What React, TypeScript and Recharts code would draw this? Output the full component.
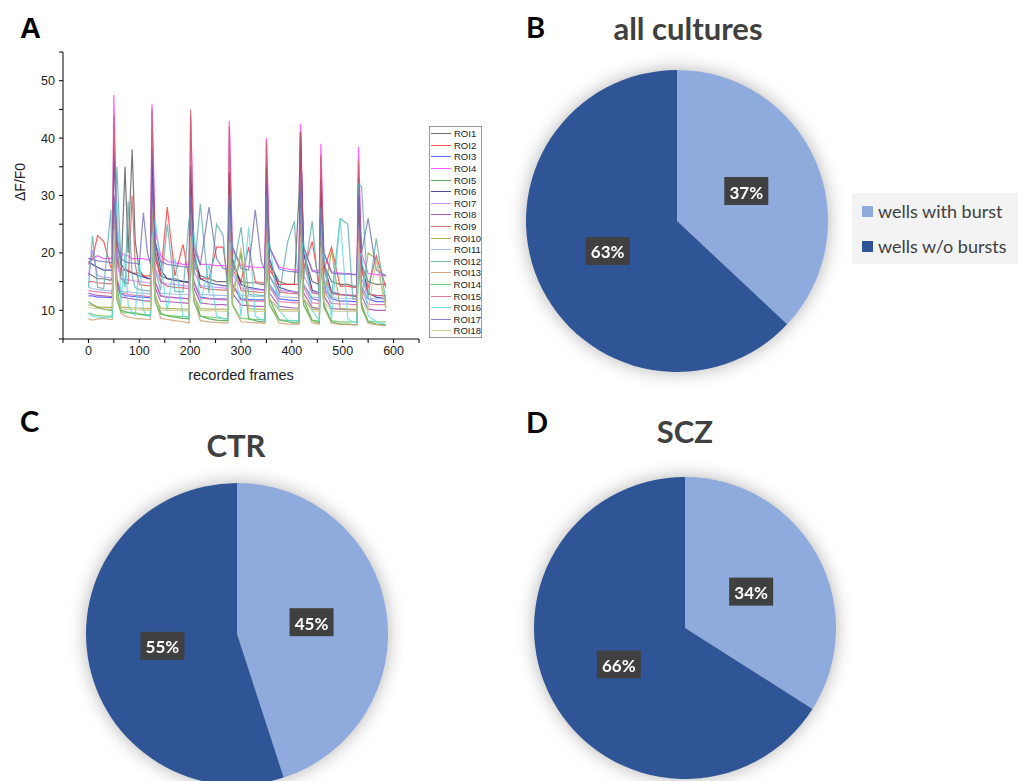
import React from 'react';
import { LineChart, Line, XAxis, YAxis, PieChart, Pie, Cell } from 'recharts';

// recorded frame positions sampled for every ROI trace
const frames = [
  0, 8, 18, 30, 44, 47, 50, 56, 64, 72,
  78, 86, 92, 100, 108, 116, 122, 125, 131, 142,
  155, 170, 186, 198, 201, 207, 220, 237, 252, 265,
  274, 277, 283, 300, 315, 328, 340, 347, 350, 356,
  375, 392, 405, 414, 417, 423, 440, 454, 457, 463,
  478, 495, 510, 520, 528, 531, 537, 550, 566, 585,
];

const roi1 = [16.5, 16, 15.5, 15.5, 15.2, 15.5, 30, 19, 16, 35, 20, 38, 22, 17, 16, 15.5, 15.5, 33, 20, 16, 15.5, 15.5, 15, 15, 30, 19, 16, 15.5, 15, 15, 15, 28, 18, 15, 14.8, 14.8, 14.5, 14.5, 30, 18, 15, 14.5, 14.5, 30, 41, 20, 15, 14.5, 30, 18, 15, 14.5, 14.5, 14.2, 14.2, 30, 18, 15, 14.5, 14.5];
const roi2 = [18, 19, 23, 22, 17.5, 17.5, 26, 19, 17, 17, 17, 16.5, 16.5, 16.5, 16, 16, 16, 27, 19, 16, 28, 16, 21.5, 15.5, 26, 18, 15.5, 15.5, 21, 21, 15, 25, 17, 15, 21, 15, 14.8, 14.8, 25, 17, 14.5, 14.5, 14.5, 14.5, 25, 17, 22, 14.3, 24, 17, 21, 14.2, 14.2, 14, 14, 26, 17, 14, 19.5, 14];
const roi3 = [12.5, 12.5, 12.3, 12.3, 12.2, 12.2, 25, 15, 13, 12.5, 12.5, 12.4, 12.4, 12.3, 12.3, 12.2, 12.2, 24, 15, 12.5, 12.3, 12.2, 12.1, 12, 24, 15, 12.3, 12.1, 12, 12, 11.9, 23, 14.5, 12, 11.9, 11.8, 11.8, 11.8, 23, 14.5, 12, 11.8, 11.7, 11.7, 24, 14.5, 12, 11.7, 22, 14, 12, 11.6, 11.6, 11.5, 11.5, 23, 14, 12, 11.5, 11.5];
const roi4 = [19, 19, 19.5, 19, 19, 19.5, 47.5, 24, 20, 19.5, 19.5, 19, 19, 19, 19, 18.8, 18.8, 46, 24, 19.5, 18.5, 18.3, 18, 18, 44, 22, 18, 18, 17.8, 17.8, 17.7, 43, 21, 17.8, 17.6, 17.5, 17.5, 17.4, 40, 21, 17.5, 17.2, 17, 17, 42.5, 21, 17, 16.8, 39, 20, 16.7, 16.5, 16.4, 16.3, 16.2, 38.5, 20, 16.4, 16.2, 16];
const roi5 = [11.5, 11, 10.5, 10.2, 10, 10, 24, 14, 10, 9.8, 9.6, 9.5, 9.4, 9.3, 9.2, 9.1, 9, 23, 13, 9.5, 9, 8.8, 8.6, 8.5, 24, 13, 9, 8.5, 8.3, 8.2, 8.2, 22, 12, 20, 8.5, 8.2, 8, 8, 22, 12, 8.3, 8, 7.8, 7.8, 23, 12, 8.2, 7.8, 21, 11, 8, 7.6, 7.6, 7.5, 7.5, 22, 11, 8, 7.6, 7.5];
const roi6 = [18.5, 18, 17.5, 17, 17, 17, 38, 22, 18, 17, 16.8, 16.5, 16.3, 16, 15.8, 15.6, 15.5, 38, 22, 17, 15.5, 15.2, 15, 14.8, 35, 20, 15.5, 14.8, 14.5, 14.3, 14.2, 34, 19, 14.5, 14, 13.8, 13.6, 13.5, 35, 19, 14, 13.5, 13.2, 13.1, 41, 20, 13.5, 13, 33, 18, 13.2, 12.8, 12.6, 12.5, 12.4, 33, 18, 13, 12.3, 12];
const roi7 = [16, 20.5, 16, 15.8, 15.6, 15.6, 27, 18, 15.5, 15.4, 15.3, 15.2, 15.1, 15, 14.9, 14.8, 14.7, 26, 17.5, 14.8, 14.6, 14.5, 14.3, 14.2, 27, 17, 14.3, 14.1, 14, 13.9, 13.8, 25, 16.5, 13.9, 13.7, 13.6, 13.5, 13.4, 25, 16, 13.5, 13.3, 13.2, 13.1, 26, 16, 13.2, 13, 24, 15.5, 13, 12.8, 12.7, 12.6, 12.6, 25, 15.5, 12.8, 12.6, 12.5];
const roi8 = [13, 12.8, 12.6, 12.5, 12.4, 12.4, 22, 14.5, 12.3, 12.2, 12.1, 12, 11.9, 11.8, 11.7, 11.6, 11.6, 21, 14, 11.6, 11.5, 11.4, 11.3, 11.2, 22, 14, 11.3, 11.1, 11, 11, 10.9, 20, 13, 10.9, 10.8, 10.7, 10.7, 10.6, 20, 13, 10.7, 10.5, 10.4, 10.4, 21, 13, 10.5, 10.3, 19, 12.5, 10.3, 10.2, 10.1, 10.1, 10, 24, 12.5, 10.2, 10, 10];
const roi9 = [15, 15, 14.8, 14.7, 14.6, 14.6, 44, 21, 15.5, 14.8, 14.6, 30, 18, 14.5, 14.4, 14.3, 14.3, 45, 21, 15, 14.2, 14, 13.9, 13.8, 45, 20, 14, 13.7, 13.6, 13.5, 13.5, 42, 19, 13.5, 13.3, 13.2, 13.1, 13.1, 39.5, 18, 13.2, 13, 12.9, 12.9, 41, 18.5, 13, 12.8, 37, 17, 12.9, 12.7, 12.6, 12.6, 12.5, 36, 17, 12.8, 12.6, 12.5];
const roi10 = [11, 10.8, 10.6, 10.5, 10.5, 10.5, 21, 13, 10.6, 10.5, 10.5, 10.4, 10.4, 10.4, 10.3, 10.3, 10.3, 20, 12.5, 10.4, 10.3, 10.3, 10.2, 10.2, 21, 12.5, 10.3, 10.2, 10.2, 10.2, 10.1, 19, 12, 20.5, 10.3, 10.2, 10.2, 10.1, 19, 12, 10.2, 10.1, 10.1, 10.1, 20, 12, 10.2, 10.1, 19, 12, 20.5, 10.3, 10.2, 10.2, 10.1, 20, 12, 20, 19, 10.5];
const roi11 = [14, 13.8, 13.6, 13.5, 13.4, 13.4, 23, 15.5, 13.3, 13.2, 13.2, 13.1, 13.1, 13, 13, 12.9, 12.9, 22, 15, 13, 12.9, 12.8, 12.8, 12.7, 23, 15, 12.8, 12.7, 12.6, 12.6, 12.5, 21, 14.5, 12.6, 12.5, 12.4, 12.4, 12.3, 21, 14.5, 12.4, 12.3, 12.2, 12.2, 22, 14.5, 12.3, 12.2, 20, 14, 12.2, 12.1, 12.1, 12, 12, 21, 14, 12.1, 12, 12];
const roi12 = [14, 23, 14, 13.8, 27.5, 16, 20, 35, 18, 14, 29, 16, 14, 13.6, 13.5, 13.4, 13.4, 30, 17, 13.5, 25, 13.3, 13.2, 26, 27, 16, 28.5, 13, 25, 23, 12.8, 30, 16, 24.5, 12.8, 12.7, 12.6, 12.5, 30, 16, 12.6, 22, 25.5, 12.4, 30, 15.5, 25.5, 12.2, 28, 15, 12.2, 26, 25, 12, 12, 32, 31.5, 12.2, 22.5, 11.5];
const roi13 = [8.5, 8.3, 8.5, 8.6, 8.4, 8.4, 25, 12, 9.5, 9, 8.8, 8.7, 8.6, 8.5, 8.5, 8.4, 8.4, 27, 12, 8.6, 8.4, 8.2, 8, 7.8, 27, 12, 8.2, 8, 7.9, 7.8, 7.8, 26, 11, 8, 7.9, 7.8, 7.8, 7.7, 24, 11, 7.8, 7.6, 7.6, 7.6, 25, 11, 7.8, 7.6, 23, 10.5, 7.7, 7.6, 7.5, 7.5, 7.5, 24, 10.5, 7.7, 7.5, 7.3];
const roi14 = [9.5, 9.3, 9.1, 9, 9, 9, 22, 12, 9.8, 9.5, 9.7, 9.5, 9.6, 9.4, 9.3, 9.2, 9.2, 21, 11.5, 9.3, 9.1, 9, 8.9, 8.8, 22, 11.5, 9, 8.8, 8.7, 8.6, 8.5, 20, 11, 8.6, 8.5, 8.4, 8.4, 8.3, 20, 11, 8.4, 8.2, 8.2, 8.1, 21, 11, 8.3, 8.1, 19, 10.5, 8.2, 8, 8, 8, 7.9, 20, 10.5, 8.1, 8, 8];
const roi15 = [13.5, 13.3, 13.2, 13.1, 13, 13, 24, 15.5, 13, 12.9, 12.8, 12.7, 12.6, 12.6, 12.5, 12.4, 12.4, 23, 15, 12.5, 12.3, 12.2, 12.1, 12, 24, 15, 12.1, 12, 11.9, 11.8, 11.8, 22, 14.5, 11.8, 11.7, 11.6, 11.6, 11.5, 22, 14, 11.5, 11.4, 11.3, 11.3, 23, 14, 11.3, 11.2, 21, 13.5, 11.2, 11.1, 11.1, 11, 11, 22, 13.5, 11.1, 11, 11];
const roi16 = [9.5, 9, 8.8, 8.7, 8.8, 8.8, 20, 29, 11, 20, 11, 9.5, 9.2, 19, 10, 9, 9, 22, 26, 18, 10, 19, 9, 8.7, 20, 24, 11, 18, 9, 8.5, 8.5, 20, 22, 9, 24.5, 9, 8.3, 8.3, 20, 22, 10, 8.3, 8.2, 8.2, 20, 22, 10, 8.2, 19, 20, 8.5, 26, 8.5, 8, 7.9, 19, 20, 9, 8, 7.5];
const roi17 = [19, 18.8, 18.6, 18.5, 18.3, 18.3, 30, 22, 19, 18.5, 18.3, 18.2, 18.2, 18, 27, 20, 18, 32, 22, 18.5, 18, 17.8, 17.6, 17.5, 30, 21, 17.8, 28, 19, 17.3, 17.2, 30, 21, 17.3, 17, 27.5, 18.5, 17, 30, 21, 17.2, 16.8, 16.7, 16.6, 31, 21, 16.8, 16.5, 28, 20, 16.5, 16.3, 16.3, 16.2, 16.2, 30, 20, 26, 17, 16];
const roi18 = [10.5, 10.4, 10.3, 10.2, 10.2, 10.2, 24, 13, 10.3, 10.2, 10.2, 10.1, 10.1, 10.1, 10, 10, 10, 23, 12.5, 10.1, 10, 10, 9.9, 9.9, 23, 12.5, 10, 9.9, 9.9, 9.8, 9.8, 22, 12, 21, 9.9, 9.8, 9.8, 9.8, 22, 12, 9.9, 9.8, 9.8, 9.8, 23, 12, 9.9, 9.8, 21, 11.5, 9.9, 9.8, 9.8, 9.8, 9.8, 22, 11.5, 9.9, 19, 10];

const roiSeries = [roi1, roi2, roi3, roi4, roi5, roi6, roi7, roi8, roi9, roi10, roi11, roi12, roi13, roi14, roi15, roi16, roi17, roi18];
const roiNames = roiSeries.map((_, i) => `ROI${i + 1}`);
const roiColors = [
  '#555555', '#ff3535', '#4545ff', '#ff3cff', '#3fa03f', '#2c2c8c',
  '#c07cff', '#a040a8', '#d05a5a', '#a8a040', '#94b2e0', '#5aacac',
  '#c89a6a', '#5cc45c', '#e0609c', '#5cdce4', '#6e6eb8', '#c8c88c',
];

const xTicks = [-50, 0, 50, 100, 150, 200, 250, 300, 350, 400, 450, 500, 550, 600, 650];
const yTicks = [5, 10, 15, 20, 25, 30, 35, 40, 45, 50, 55];

// pie panels
const sliceNames = ['wells with burst', 'wells w/o bursts'];
const sliceColors = ['#8faadc', '#2f5597'];
const allCultures = [37, 63];
const ctrValues = [45, 55];
const sczValues = [34, 66];

const traceData = frames.map((frame, i) => {
  const row: Record<string, number> = { frame };
  roiSeries.forEach((s, k) => {
    row[roiNames[k]] = s[i];
  });
  return row;
});

const RAD = Math.PI / 180;
const pieFont = 'Lato, "Open Sans", sans-serif';
const arialFont = '"Liberation Sans", Arial, sans-serif';

function BoxLabel(props: any) {
  const { cx, cy, midAngle, outerRadius, value } = props;
  const r = outerRadius * 0.5;
  const x = cx + r * Math.cos(-midAngle * RAD);
  const y = cy + r * Math.sin(-midAngle * RAD);
  return (
    <g>
      <rect x={x - 22} y={y - 14} width={44} height={28} fill="#404040" />
      <text
        x={x}
        y={y + 1}
        fill="#ffffff"
        textAnchor="middle"
        dominantBaseline="central"
        fontFamily={pieFont}
        fontWeight={700}
        fontSize={17}
      >
        {value}%
      </text>
    </g>
  );
}

function PiePanel({ values, left, top }: { values: number[]; left: number; top: number }) {
  const data = values.map((v, i) => ({ name: sliceNames[i], value: v }));
  return (
    <div style={{ position: 'absolute', left, top, filter: 'drop-shadow(0px 0px 9px rgba(0,0,0,0.3))' }}>
      <PieChart width={340} height={340} margin={{ top: 0, right: 0, bottom: 0, left: 0 }}>
        <Pie
          data={data}
          dataKey="value"
          nameKey="name"
          cx="50%"
          cy="50%"
          outerRadius={151}
          startAngle={90}
          endAngle={-270}
          stroke="none"
          labelLine={false}
          label={BoxLabel}
          isAnimationActive={false}
        >
          {data.map((d, i) => (
            <Cell key={d.name} fill={sliceColors[i]} />
          ))}
        </Pie>
      </PieChart>
    </div>
  );
}

const panelLetter = (ch: string, left: number, top: number, font: string) => (
  <div style={{ position: 'absolute', left, top, fontFamily: font, fontWeight: 700, fontSize: 29, color: '#000', lineHeight: '30px' }}>
    {ch}
  </div>
);

const pieTitle = (text: string, cx: number, cy: number) => (
  <div
    style={{
      position: 'absolute',
      left: cx - 150,
      top: cy - 19,
      width: 300,
      textAlign: 'center',
      fontFamily: pieFont,
      fontWeight: 700,
      fontSize: 31,
      lineHeight: '38px',
      color: '#404040',
    }}
  >
    {text}
  </div>
);

export default function App() {
  return (
    <div style={{ position: 'absolute', left: 0, top: 0, width: 1018, height: 781, background: '#fff', overflow: 'hidden' }}>
      {/* Panel A */}
      {panelLetter('A', 20, 13, arialFont)}
      <div style={{ position: 'absolute', left: 0, top: 0 }}>
        <LineChart width={430} height={400} data={traceData} margin={{ top: 52, right: 11, bottom: 31, left: 23 }}>
          <XAxis
            dataKey="frame"
            type="number"
            domain={[-50, 650]}
            ticks={xTicks}
            tickFormatter={(v: number) => (v >= 0 && v <= 600 && v % 100 === 0 ? String(v) : '')}
            tickSize={4}
            tickMargin={3}
            height={30}
            stroke="#000"
            tick={{ fill: '#222', fontSize: 12.5, fontFamily: arialFont }}
            interval={0}
          />
          <YAxis
            type="number"
            domain={[5, 55]}
            ticks={yTicks}
            tickFormatter={(v: number) => (v % 10 === 0 ? String(v) : '')}
            tickSize={4}
            tickMargin={4}
            width={40}
            stroke="#000"
            tick={{ fill: '#222', fontSize: 12.5, fontFamily: arialFont }}
            interval={0}
          />
          {roiNames.map((name, k) => (
            <Line
              key={name}
              type="linear"
              dataKey={name}
              stroke={roiColors[k]}
              strokeOpacity={0.8}
              strokeWidth={1.2}
              dot={false}
              isAnimationActive={false}
            />
          ))}
        </LineChart>
      </div>
      <div
        style={{
          position: 'absolute',
          left: 6,
          top: 187,
          width: 28,
          textAlign: 'center',
          transform: 'translate(0, -50%) rotate(-90deg)',
          fontFamily: arialFont,
          fontSize: 14,
          color: '#222',
          whiteSpace: 'nowrap',
          lineHeight: '16px',
        }}
      >
        ΔF/F0
      </div>
      <div style={{ position: 'absolute', left: 141, top: 367, width: 200, textAlign: 'center', fontFamily: arialFont, fontSize: 14.5, color: '#222' }}>
        recorded frames
      </div>
      <div
        style={{
          position: 'absolute',
          left: 429,
          top: 126,
          width: 53,
          height: 212,
          border: '1px solid #9a9a9a',
          boxSizing: 'border-box',
          paddingTop: 1,
        }}
      >
        {roiNames.map((name, k) => (
          <div key={name} style={{ display: 'flex', alignItems: 'center', height: 11.6 }}>
            <div style={{ width: 20, height: 1, marginLeft: 1, background: roiColors[k], opacity: 0.85 }} />
            <div style={{ marginLeft: 3, fontFamily: arialFont, fontSize: 9.5, color: '#222', lineHeight: '11px' }}>{name}</div>
          </div>
        ))}
      </div>

      {/* Panel B */}
      {panelLetter('B', 526, 12, pieFont)}
      {pieTitle('all cultures', 688, 28)}
      <PiePanel values={allCultures} left={677 - 170} top={220.5 - 170} />
      <div
        style={{
          position: 'absolute',
          left: 852,
          top: 193,
          width: 166,
          height: 71,
          background: '#f3f3f3',
        }}
      >
        {sliceNames.map((n, i) => (
          <div key={n} style={{ position: 'absolute', left: 10, top: 7 + i * 35, display: 'flex', alignItems: 'center', height: 22 }}>
            <div style={{ width: 11, height: 11, background: sliceColors[i] }} />
            <div style={{ marginLeft: 5, fontFamily: pieFont, fontSize: 18, color: '#404040', whiteSpace: 'nowrap' }}>{n}</div>
          </div>
        ))}
      </div>

      {/* Panel C */}
      {panelLetter('C', 20, 406, pieFont)}
      {pieTitle('CTR', 236, 445)}
      <PiePanel values={ctrValues} left={237 - 170} top={633.5 - 170} />

      {/* Panel D */}
      {panelLetter('D', 526, 407, pieFont)}
      {pieTitle('SCZ', 685, 431)}
      <PiePanel values={sczValues} left={685 - 170} top={628 - 170} />
    </div>
  );
}
